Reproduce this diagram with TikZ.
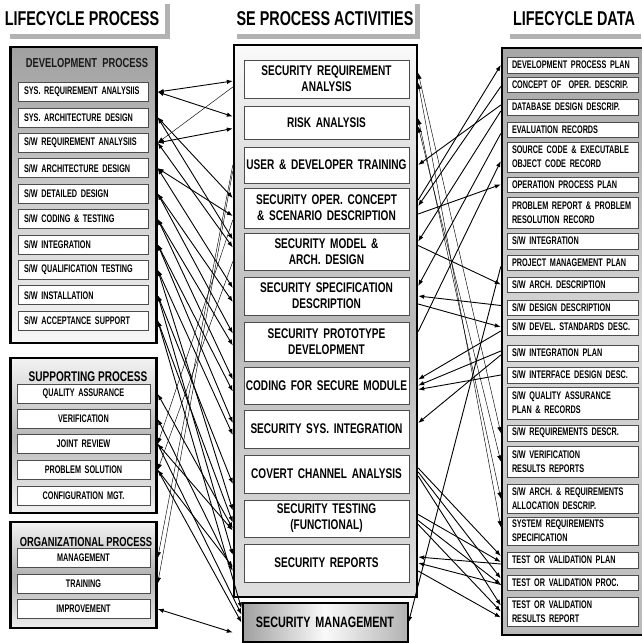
\documentclass[tikz,border=0pt]{standalone}
\usepackage{fontspec}
\setmainfont{Liberation Sans}[FakeStretch=0.72]
\newfontfamily\narrowfont{Liberation Sans}[FakeStretch=0.66]
\usetikzlibrary{arrows.meta,calc,positioning}

\tikzset{
  head/.style={font=\bfseries\fontsize{20}{22}\selectfont, inner sep=0pt},
  headbar/.style={draw=gray!60, line width=5pt},
  frame/.style={draw=black, line width=2.4pt, inner sep=0pt},
  title/.style={font=\bfseries\fontsize{13}{14}\selectfont, inner sep=0pt},
  procbox/.style={draw=gray!60!black, fill=white, line width=0.6pt, minimum height=19pt,
    inner ysep=0pt, inner xsep=6pt, text width=118pt, align=left,
    font=\narrowfont\bfseries\fontsize{11}{12}\selectfont},
  supbox/.style={procbox, text width=121pt, align=center},
  actbox/.style={draw=gray!60!black, fill=white, line width=0.8pt, inner ysep=0pt,
    inner xsep=0.5pt, text width=164pt, align=center,
    font=\bfseries\fontsize{14}{16}\selectfont},
  databox/.style={procbox, inner xsep=5pt, text width=121pt, font=\narrowfont\bfseries\fontsize{11}{14}\selectfont},
  link/.style={line width=0.9pt},
  thinlink/.style={line width=0.45pt},
  >={Latex[length=6pt,width=4.5pt]}
}

\begin{document}
\begin{tikzpicture}[x=1pt,y=-1pt]
  \useasboundingbox (0,0) rectangle (641,643);
  \fill[white] (0,0) rectangle (641,643);

  % Headers
  \node[head] (hproc) at (82,19) {LIFECYCLE PROCESS};
  \node[head] (hact) at (325,19) {SE PROCESS ACTIVITIES};
  \node[head] (hdata) at (574,19) {LIFECYCLE DATA};
  \draw[headbar] (10,36) -| (167,4);
  \draw[headbar] (237,36) -| (417,4);
  \draw[headbar] (510,36) -- (641,36);

  % Lifecycle process
  \node[frame, top color=gray!75, bottom color=gray!6, minimum width=146pt, minimum height=296pt] (dev) at (83.5,195) {};
  \node[frame, top color=gray!10, bottom color=gray!10, middle color=gray!55, minimum width=146pt, minimum height=155pt] (sup) at (83.5,435.5) {};
  \node[frame, top color=gray!10, bottom color=gray!15, middle color=gray!60, minimum width=146pt, minimum height=106pt] (org) at (83.5,575) {};
  \node[title, text=gray!20!black] (devt) at (87,63) {DEVELOPMENT\ \ PROCESS};
  \node[title, font=\bfseries\fontsize{14}{15}\selectfont] (supt) at (88,377) {SUPPORTING\ PROCESS};
  \node[title] (orgt) at (86,542) {ORGANIZATIONAL PROCESS};

  \foreach \i/\y/\t in {1/92/{SYS. REQUIREMENT ANALYSIIS}, 2/117.4/{SYS. ARCHITECTURE DESIGN},
      3/142.8/{S/W REQUIREMENT ANALYSIIS}, 4/168.2/{S/W ARCHITECTURE DESIGN},
      5/193.6/{S/W DETAILED DESIGN}, 6/219/{S/W CODING \& TESTING}, 7/244.4/{S/W INTEGRATION},
      8/269.8/{S/W QUALIFICATION TESTING}, 9/295.2/{S/W INSTALLATION}, 10/320.6/{S/W ACCEPTANCE SUPPORT}}
    \node[procbox] (L\i) at (83,\y) {\t};
  \foreach \i/\y/\t in {1/394/{QUALITY ASSURANCE}, 2/419/{VERIFICATION}, 3/444/{JOINT REVIEW},
      4/470/{PROBLEM SOLUTION}, 5/495.5/{CONFIGURATION MGT.}}
    \node[supbox] (S\i) at (83.5,\y) {\t};
  \foreach \i/\y/\t in {1/558/{MANAGEMENT}, 2/583.5/{TRAINING}, 3/609/{IMPROVEMENT}}
    \node[supbox] (O\i) at (83.5,\y) {\t};

  % SE process activities
  \node[frame, top color=gray!4, bottom color=gray!25, middle color=gray!55, minimum width=183pt, minimum height=552pt] (act) at (325.5,321) {};
  \foreach \i/\y/\h/\t in {1/79/38/{SECURITY REQUIREMENT\\ANALYSIS}, 2/122.5/33/{RISK ANALYSIS},
      3/165/36/{USER \& DEVELOPER TRAINING}, 4/208/40/{SECURITY OPER. CONCEPT\\\& SCENARIO DESCRIPTION},
      5/251.5/37/{SECURITY MODEL \&\\ARCH. DESIGN}, 6/296/38/{SECURITY SPECIFICATION\\DESCRIPTION},
      7/341.5/39/{SECURITY PROTOTYPE\\DEVELOPMENT}, 8/385.5/37/{CODING FOR SECURE MODULE},
      9/429/38/{SECURITY SYS. INTEGRATION}, 10/474/38/{COVERT CHANNEL ANALYSIS},
      11/518.5/37/{SECURITY TESTING\\(FUNCTIONAL)}, 12/563/38/{SECURITY REPORTS}}
    \node[actbox, minimum height=\h pt] (M\i) at (326.5,\y) {\t};
  \node[actbox, draw=black, line width=2pt, left color=gray!75, right color=gray!60, middle color=gray!4,
    minimum height=39pt, text width=164pt, font=\bfseries\fontsize{15}{17}\selectfont] (M13) at (325,622.5) {SECURITY MANAGEMENT};

  % Lifecycle data
  \node[frame, top color=gray!70, bottom color=gray!55, middle color=gray!30, minimum width=143pt, minimum height=587pt] (dat) at (573.5,341.5) {};
  \foreach \i/\y/\h/\t in {1/65/16/{DEVELOPMENT PROCESS PLAN}, 2/84.5/15/{CONCEPT OF\ \ OPER. DESCRIP.},
      3/107/16/{DATABASE DESIGN DESCRIP.}, 4/129.5/15/{EVALUATION RECORDS},
      5/157/30/{SOURCE CODE \& EXECUTABLE\\OBJECT CODE RECORD}, 6/184.5/15/{OPERATION PROCESS PLAN},
      7/212.5/31/{PROBLEM REPORT \& PROBLEM\\RESOLUTION RECORD}, 8/241/16/{S/W INTEGRATION},
      9/262.5/15/{PROJECT MANAGEMENT PLAN}, 10/284.5/15/{S/W ARCH. DESCRIPTION},
      11/307.5/15/{S/W DESIGN DESCRIPTION}, 12/327/16/{S/W DEVEL. STANDARDS DESC.},
      13/353/16/{S/W INTEGRATION PLAN}, 14/375/16/{S/W INTERFACE DESIGN DESC.},
      15/403/32/{S/W QUALITY ASSURANCE\\PLAN \& RECORDS}, 16/433/16/{S/W REQUIREMENTS DESCR.},
      17/461.5/31/{S/W VERIFICATION\\RESULTS REPORTS}, 18/498.5/29/{S/W ARCH. \& REQUIREMENTS\\ALLOCATION DESCRIP.},
      19/531/28/{SYSTEM REQUIREMENTS\\SPECIFICATION}, 20/560/16/{TEST OR VALIDATION PLAN},
      21/582.5/15/{TEST OR VALIDATION PROC.}, 22/611.5/29/{TEST OR VALIDATION\\RESULTS REPORT}}
    \node[databox, minimum height=\h pt] (R\i) at (572.5,\y) {\t};

  % Process to activity links
  \foreach \a/\b/\s in {L1/M1/2, L1/M2/-6, L2/M4/-10, L2/M5/-12, L3/M2/6, L3/M5/-4, L4/M4/8,
      L4/M6/-8, L5/M6/6, L5/M7/-8, L6/M7/4, L6/M8/-6, L7/M8/6, L7/M9/-6, L8/M9/6, L8/M11/-8,
      L9/M10/10, L9/M12/-8, L10/M11/4, S1/M11/10, S2/M12/8, S3/M11/12, S4/M12/4, O3/M13/10}
    \draw[link,<->] (\a -| dev.east) -- ($(\b.west -| act.west)+(0,\s)$);
  \foreach \a/\b/\s in {L10/M13/-14, S3/M13/-8, S4/M13/0}
    \draw[link,->] (\a -| dev.east) -- ($(\b.west)+(0,\s)$);
  \foreach \a/\b/\s in {M1/L3/8, M3/O1/0, M3/O2/6, M4/S3/12, M5/S4/10}
    \draw[thinlink,->] ($(\a.west -| act.west)+(0,\s)$) -- (\b -| dev.east);

  % Activity to data links
  \foreach \a/\b/\s/\u in {M4/R1/-8/0, M4/R6/6/0, M5/R10/-6/0, M6/R12/8/0, M7/R5/-10/4,
      M10/R20/-6/-4, M10/R21/-2/-4, M10/R22/2/-6, M11/R20/-4/2, M11/R21/2/2, M11/R22/6/0, M12/R22/8/6}
    \draw[link,->] ($(\a.east -| act.east)+(0,\s)$) -- ($(\b.west -| dat.west)+(0,\u)$);
  \foreach \a/\b/\s/\u in {M4/R2/-2/2, M3/R3/0/-2, M5/R3/-10/4, M6/R4/-10/4, M8/R12/-6/4,
      M8/R14/4/0, M9/R13/-6/2, M8/R13/0/-2, M12/R20/-6/4, M12/R21/0/2, M6/R11/0/-2}
    \draw[link,<-] ($(\a.east -| act.east)+(0,\s)$) -- ($(\b.west -| dat.west)+(0,\u)$);
  \draw[link,<-] (M13.east) -- ($(R9.west -| dat.west)+(0,4)$);
  \foreach \a/\b/\s/\u in {M1/R16/-6/0, M1/R19/4/-4, M2/R18/-4/0, M2/R17/4/0}
    \draw[thinlink,<->] ($(\a.east -| act.east)+(0,\s)$) -- ($(\b.west -| dat.west)+(0,\u)$);
\end{tikzpicture}
\end{document}
